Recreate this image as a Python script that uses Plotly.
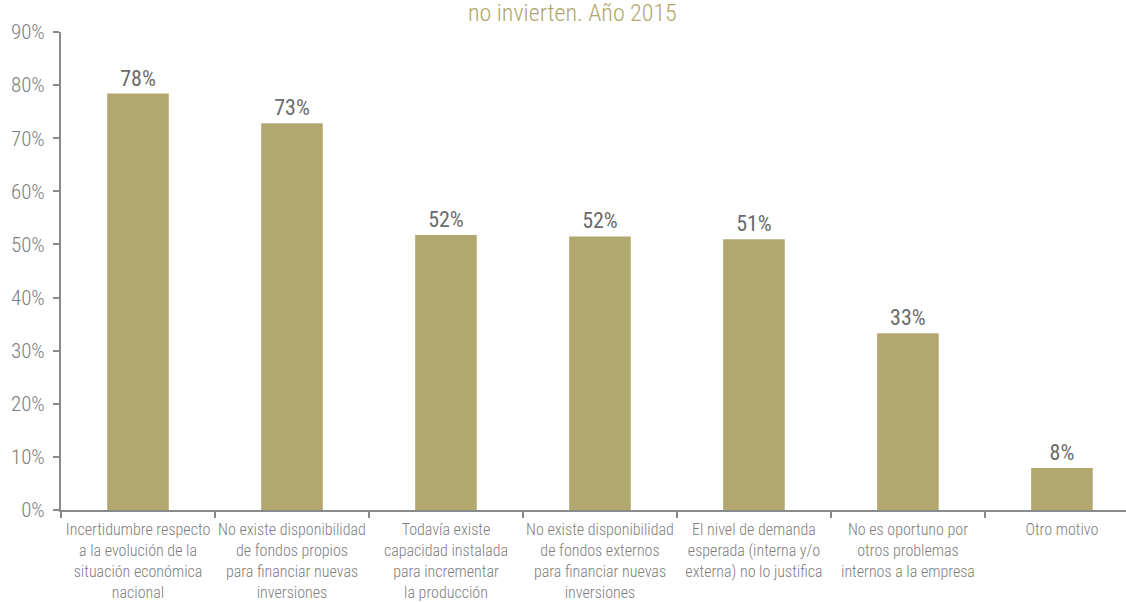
import plotly.graph_objects as go

# Reasons given by firms for not investing (share of firms, %)
categories = [
    "Incertidumbre respecto<br>a la evolución de la<br>situación económica<br>nacional",
    "No existe disponibilidad<br>de fondos propios<br>para financiar nuevas<br>inversiones",
    "Todavía existe<br>capacidad instalada<br>para incrementar<br>la producción",
    "No existe disponibilidad<br>de fondos externos<br>para financiar nuevas<br>inversiones",
    "El nivel de demanda<br>esperada (interna y/o<br>externa) no lo justifica",
    "No es oportuno por<br>otros problemas<br>internos a la empresa",
    "Otro motivo",
]
values = [78.4, 72.8, 51.8, 51.5, 51.0, 33.3, 7.9]
y_ticks = [0, 10, 20, 30, 40, 50, 60, 70, 80, 90]
y_tick_labels = [f"{v}%" for v in y_ticks]
title_text = "no invierten. Año 2015"

FONT = "Roboto Condensed, Open Sans, sans-serif"
BAR = "#b2a76f"
GREY = "#7d7d7d"
AXIS = "#8a8a8a"

fig = go.Figure(
    go.Bar(
        x=categories,
        y=values,
        width=0.4,
        marker=dict(color=BAR, line=dict(width=0)),
        texttemplate="%{y:.0f}%",
        textposition="outside",
        textfont=dict(family=FONT, size=22, color="#6b6b6b", weight=400),
        cliponaxis=False,
        hoverinfo="skip",
    )
)

fig.update_layout(
    width=1126,
    height=602,
    margin=dict(l=61, r=0, t=32, b=92),
    paper_bgcolor="white",
    plot_bgcolor="white",
    showlegend=False,
    bargap=0.6,
    font=dict(family=FONT, color=GREY, weight=300),
    annotations=[
        dict(
            text=title_text,
            xref="paper", yref="paper",
            x=0.48, y=1.0, yshift=35,
            xanchor="center", yanchor="top",
            showarrow=False,
            font=dict(family=FONT, size=24, color="#b0a66a", weight=300),
        )
    ],
)

fig.update_xaxes(
    type="category",
    range=[-0.5, 6.416],
    automargin=False,
    tickangle=0,
    ticklabelstandoff=4,
    showline=True,
    linecolor=AXIS,
    linewidth=2,
    ticks="outside",
    tickson="boundaries",
    ticklen=6,
    tickcolor=AXIS,
    tickwidth=2,
    tickfont=dict(family=FONT, size=16, color=GREY, weight=300),
    showgrid=False,
    zeroline=False,
    fixedrange=True,
)

fig.update_yaxes(
    range=[0, 90],
    automargin=False,
    tickvals=y_ticks,
    ticktext=y_tick_labels,
    ticklabelstandoff=4,
    showline=True,
    linecolor=AXIS,
    linewidth=2,
    ticks="outside",
    ticklen=6,
    tickcolor=AXIS,
    tickwidth=2,
    tickfont=dict(family=FONT, size=21, color=GREY, weight=300),
    showgrid=False,
    zeroline=False,
    fixedrange=True,
)

fig.write_html("out.html")
